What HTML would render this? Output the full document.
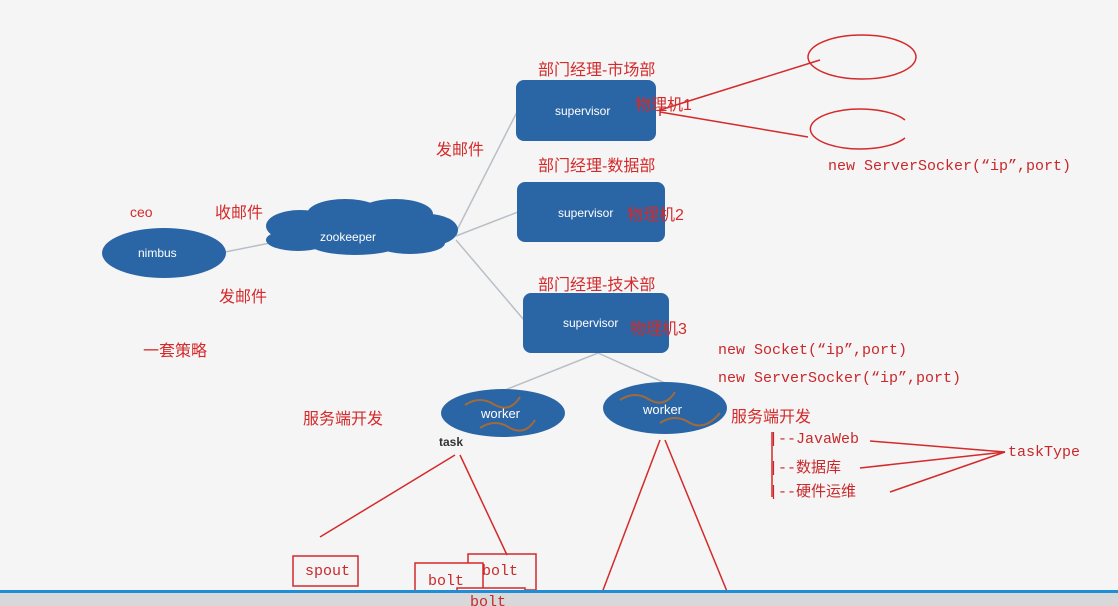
<!DOCTYPE html>
<html><head><meta charset="utf-8"><style>
html,body{margin:0;padding:0;background:#f5f5f6;width:1118px;height:606px;overflow:hidden;position:relative}
.t{position:absolute;color:#d42a2a;font-family:"Liberation Sans","Noto Sans CJK SC",sans-serif;font-size:16px;white-space:nowrap}
.m{position:absolute;color:#c8282a;font-family:"Liberation Mono","Noto Sans CJK SC",monospace;font-size:15px;white-space:nowrap}
.w{position:absolute;color:#fff;font-family:"Liberation Sans",sans-serif;font-size:12px}
</style></head><body>
<svg width="1118" height="606" style="position:absolute;left:0;top:0">
<g stroke="#b9bfc6" stroke-width="1.5" fill="none">
<line x1="225" y1="252" x2="275" y2="242"/>
<line x1="456" y1="232" x2="517" y2="112"/>
<line x1="456" y1="236" x2="518" y2="212"/>
<line x1="456" y1="240" x2="524" y2="320"/>
<line x1="598" y1="353" x2="505" y2="390"/>
<line x1="598" y1="353" x2="665" y2="383"/>
</g>
<g fill="#2a66a5">
<ellipse cx="164" cy="253" rx="62" ry="25"/>
<ellipse cx="503" cy="413" rx="62" ry="24"/>
<ellipse cx="665" cy="408" rx="62" ry="26"/>
<rect x="516" y="80" width="140" height="61" rx="8"/>
<rect x="517" y="182" width="148" height="60" rx="8"/>
<rect x="523" y="293" width="146" height="60" rx="8"/>
<ellipse cx="300" cy="226" rx="34" ry="16"/>
<ellipse cx="345" cy="214" rx="38" ry="15"/>
<ellipse cx="395" cy="214" rx="38" ry="15"/>
<ellipse cx="428" cy="230" rx="30" ry="16"/>
<ellipse cx="410" cy="243" rx="35" ry="11"/>
<ellipse cx="355" cy="244" rx="45" ry="11"/>
<ellipse cx="298" cy="240" rx="32" ry="11"/>
<ellipse cx="360" cy="230" rx="88" ry="16"/>
</g>
<g stroke="#a26a3a" stroke-width="2" fill="none">
<path d="M465 405 q15 -10 30 0 q15 8 25 -8"/>
<path d="M480 428 q15 -10 30 0 q15 8 25 -8"/>
<path d="M620 400 q15 -10 30 0 q15 8 25 -8"/>
<path d="M660 423 q15 -10 30 0 q15 8 30 -10"/>
</g>
<g stroke="#d42a2a" stroke-width="1.5" fill="none">
<ellipse cx="862" cy="57" rx="54" ry="22"/>
<path d="M905 120 A50 20 0 1 0 905 138"/>
<line x1="820" y1="60" x2="660" y2="110"/>
<line x1="808" y1="137" x2="660" y2="112"/>
<line x1="660" y1="108" x2="660" y2="116"/>
<line x1="455" y1="455" x2="320" y2="537"/>
<line x1="460" y1="455" x2="507" y2="555"/>
<line x1="660" y1="440" x2="597" y2="606"/>
<line x1="665" y1="440" x2="733" y2="606"/>
<line x1="870" y1="441" x2="1005" y2="452"/>
<line x1="860" y1="468" x2="1005" y2="452"/>
<line x1="890" y1="492" x2="1005" y2="452"/>
<line x1="772" y1="432" x2="772" y2="497"/>
<rect x="293" y="556" width="65" height="30"/>
<rect x="468" y="554" width="68" height="36"/>
<rect x="415" y="563" width="68" height="38" fill="#f5f5f6"/>
<rect x="457" y="588" width="68" height="18" fill="#f5f5f6"/>
</g>
<rect x="0" y="590" width="1118" height="3" fill="#1e8fd6"/>
<rect x="0" y="593" width="1118" height="13" fill="#d8d8da"/>
</svg>
<div class="w" style="left:138px;top:246px">nimbus</div>
<div class="w" style="left:320px;top:230px">zookeeper</div>
<div class="w" style="left:555px;top:104px">supervisor</div>
<div class="w" style="left:558px;top:206px">supervisor</div>
<div class="w" style="left:563px;top:316px">supervisor</div>
<div class="w" style="left:481px;top:406px;font-size:13px">worker</div>
<div class="w" style="left:643px;top:402px;font-size:13px">worker</div>
<div class="t" style="left:130px;top:204px;font-size:14px">ceo</div>
<div class="t" style="left:215px;top:199px">收邮件</div>
<div class="t" style="left:219px;top:283px">发邮件</div>
<div class="t" style="left:143px;top:337px">一套策略</div>
<div class="t" style="left:436px;top:136px">发邮件</div>
<div class="t" style="left:538px;top:56px">部门经理-市场部</div>
<div class="t" style="left:538px;top:152px">部门经理-数据部</div>
<div class="t" style="left:538px;top:271px">部门经理-技术部</div>
<div class="t" style="left:635px;top:91px">物理机1</div>
<div class="t" style="left:627px;top:201px">物理机2</div>
<div class="t" style="left:630px;top:315px">物理机3</div>
<div class="t" style="left:303px;top:405px">服务端开发</div>
<div class="t" style="left:731px;top:403px">服务端开发</div>
<div style="position:absolute;left:439px;top:435px;font:bold 12px 'Liberation Sans',sans-serif;color:#333">task</div>
<div class="m" style="left:828px;top:158px">new ServerSocker(“ip”,port)</div>
<div class="m" style="left:718px;top:342px">new Socket(“ip”,port)</div>
<div class="m" style="left:718px;top:370px">new ServerSocker(“ip”,port)</div>
<div class="m" style="left:769px;top:431px">|--JavaWeb</div>
<div class="m" style="left:769px;top:456px">|--数据库</div>
<div class="m" style="left:769px;top:480px">|--硬件运维</div>
<div class="m" style="left:1008px;top:444px">taskType</div>
<div class="m" style="left:305px;top:563px">spout</div>
<div class="m" style="left:482px;top:563px">bolt</div>
<div class="m" style="left:428px;top:573px">bolt</div>
<div class="m" style="left:470px;top:594px">bolt</div>
</body></html>
